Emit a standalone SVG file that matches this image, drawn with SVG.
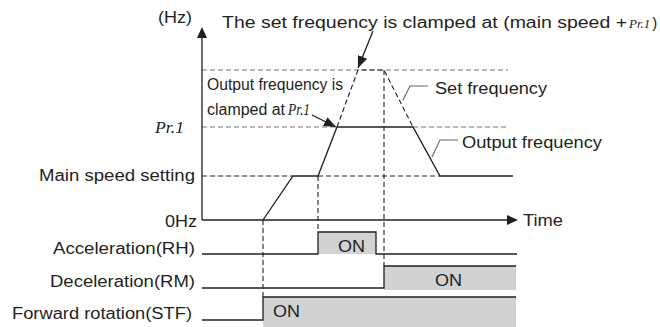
<svg xmlns="http://www.w3.org/2000/svg" width="660" height="327" viewBox="0 0 660 327">
<style>
text{font-family:"Liberation Sans",Arial,sans-serif;font-size:16px;fill:#231f20}
.it{font-family:"Liberation Serif","Times New Roman",serif;font-style:italic}
.ln{fill:none;stroke:#231f20;stroke-width:1.3}
.dk{fill:none;stroke:#231f20;stroke-width:1.1;stroke-dasharray:5 3}
.gd{fill:none;stroke:#777;stroke-width:1.1;stroke-dasharray:5 3}
.ld{fill:none;stroke:#666;stroke-width:1.1}
.on{fill:#d1d2d4}
</style>
<defs>
<marker id="ah" markerWidth="12" markerHeight="10" refX="12" refY="5" orient="auto" markerUnits="userSpaceOnUse">
<path d="M0,0 L12,5 L0,10 Z" fill="#231f20"/>
</marker>
</defs>

<g id="fills">
<rect class="on" x="318" y="232" width="58" height="22"/>
<rect class="on" x="384" y="266" width="132" height="24"/>
<rect class="on" x="263" y="297" width="253" height="30"/>
</g>

<g id="guides">
<path class="gd" d="M202,70 H508"/>
<path class="gd" d="M202,127 H337 M413,127 H508"/>
<path class="dk" d="M202,176 H293 M318,176 H440"/>
<path class="dk" d="M263,220 V297 M318,176 V232 M384,70 V266"/>
</g>

<g id="axes">
<path class="ln" d="M202,220 V37"/>
<path d="M197,38 L202,27 L207,38 Z" fill="#231f20"/>
<path class="ln" d="M202,220 H508"/>
<path d="M507,215 L518,220 L507,225 Z" fill="#231f20"/>
</g>

<g id="connectors">
<path id="output-frequency" class="ln" d="M263,220 L293,176 H318 L337,127 H413 L440,176 H513"/>
<path id="set-frequency" class="dk" d="M337,127 L358,70 H384 L413,127"/>
<path class="ld" d="M403,100 L410,86 H428"/>
<path class="ld" d="M432,157 L440,140 H458"/>
<path class="ln" d="M373,31 L358,68" stroke-width="1" marker-end="url(#ah)"/>
<path class="ln" d="M312,115 L336,127" stroke-width="1" marker-end="url(#ah)"/>
</g>

<g id="signals">
<path id="rh" class="ln" d="M202,254 H318 V232 H376 V254 H517"/>
<path id="rm" class="ln" d="M202,288 H384 V266 H516"/>
<path id="stf" class="ln" d="M202,320 H263 V297 H516"/>
</g>

<g id="labels">
<text x="158" y="23" textLength="34" lengthAdjust="spacingAndGlyphs">(Hz)</text>
<text x="222" y="28" textLength="405" lengthAdjust="spacingAndGlyphs">The set frequency is clamped at (main speed +</text>
<text y="28"><tspan class="it" x="629" font-size="13">Pr.1</tspan><tspan font-size="15" dx="2">)</tspan></text>
<text x="207" y="90" textLength="136" lengthAdjust="spacingAndGlyphs">Output frequency is</text>
<text x="207" y="115" textLength="78" lengthAdjust="spacingAndGlyphs">clamped at</text>
<text class="it" x="288" y="115" font-size="17" textLength="22" lengthAdjust="spacingAndGlyphs">Pr.1</text>
<text class="it" x="155" y="133" font-size="19" textLength="29" lengthAdjust="spacingAndGlyphs">Pr.1</text>
<text x="435" y="94" textLength="112" lengthAdjust="spacingAndGlyphs">Set frequency</text>
<text x="462" y="148" textLength="140" lengthAdjust="spacingAndGlyphs">Output frequency</text>
<text x="39" y="181" textLength="156" lengthAdjust="spacingAndGlyphs">Main speed setting</text>
<text x="165" y="227" textLength="32" lengthAdjust="spacingAndGlyphs">0Hz</text>
<text x="523" y="226" textLength="40" lengthAdjust="spacingAndGlyphs">Time</text>
<text x="53" y="254" textLength="142" lengthAdjust="spacingAndGlyphs">Acceleration(RH)</text>
<text x="50" y="287" textLength="145" lengthAdjust="spacingAndGlyphs">Deceleration(RM)</text>
<text x="12" y="319" textLength="180" lengthAdjust="spacingAndGlyphs">Forward rotation(STF)</text>
<text x="338" y="252" textLength="27" lengthAdjust="spacingAndGlyphs">ON</text>
<text x="435" y="286" textLength="27" lengthAdjust="spacingAndGlyphs">ON</text>
<text x="273" y="317" textLength="27" lengthAdjust="spacingAndGlyphs">ON</text>
</g>
</svg>
